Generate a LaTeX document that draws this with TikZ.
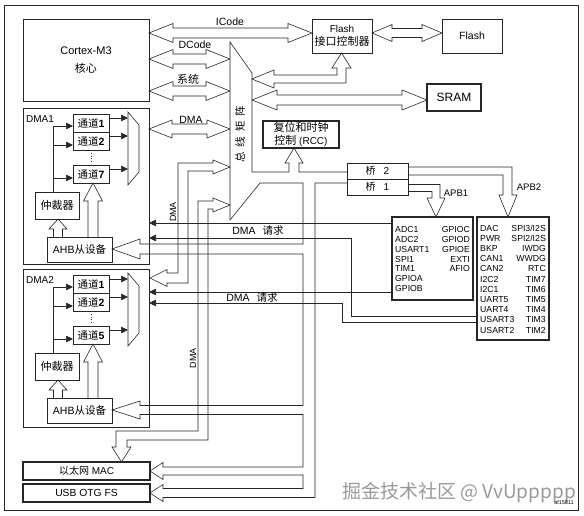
\documentclass[tikz,border=0pt]{standalone}
\usepackage{fontspec}
\setmainfont{Liberation Sans}
\newfontfamily\cjk{Noto Sans CJK SC}
\usetikzlibrary{arrows.meta}
\tikzset{
  ln/.style={draw=black!85, line width=0.6pt, line join=miter},
  box/.style={ln, inner sep=0pt, align=center, font=\fontsize{10.5}{12}\selectfont},
  tbox/.style={box, line width=1.3pt},
  cbox/.style={box, line width=0.9pt},
  band/.style={ln},
  req/.style={ln, -{Triangle[length=7pt,width=6.5pt]}},
  lbl/.style={inner sep=0pt, font=\fontsize{10.5}{12}\selectfont},
  apbt/.style={inner sep=0pt, font=\fontsize{8.7}{9}\selectfont},
}
\newcommand\rectnode[7]{\node[#6, minimum width={((#4)-(#2))*1pt}, minimum height={((#5)-(#3))*1pt}] (#1) at ({((#2)+(#4))/2},{((#3)+(#5))/2}) {#7};}
% horizontal hollow double arrow: x1 x2 y shaft-half head-half head-length
\newcommand\dblH[6]{\draw[band] (#1,#3) -- ({#1+#6},{#3-#5}) -- ({#1+#6},{#3-#4}) -- ({#2-#6},{#3-#4}) -- ({#2-#6},{#3-#5}) -- (#2,#3) -- ({#2-#6},{#3+#5}) -- ({#2-#6},{#3+#4}) -- ({#1+#6},{#3+#4}) -- ({#1+#6},{#3+#5}) -- cycle;}
% upward hollow arrow: xc ytip ybase ybottom shaft-half head-half
\newcommand\upH[6]{\draw[band] ({#1-#5},{#4}) -- ({#1-#5},{#3}) -- ({#1-#6},{#3}) -- (#1,{#2}) -- ({#1+#6},{#3}) -- ({#1+#5},{#3}) -- ({#1+#5},{#4});}
\newcommand\chan[1]{{\cjk 通道}\textbf{#1}}
% DMA unit: top, last channel, prefix, label
\newcommand\dmaunit[4]{%
  \node[lbl, font=\fontsize{10}{11}\selectfont] (#3lab) at (40,{#1+11}) {#4};
  \rectnode{#3ca}{73}{#1+6}{109}{#1+24}{cbox, font=\fontsize{10.5}{11}\selectfont}{\chan{1}}
  \rectnode{#3cb}{73}{#1+24}{109}{#1+42}{cbox, font=\fontsize{10.5}{11}\selectfont}{\chan{2}}
  \rectnode{#3cn}{73}{#1+57}{109}{#1+75}{cbox, font=\fontsize{10.5}{11}\selectfont}{\chan{#2}}
  \draw[band] (128,{#1+4}) -- (139,{#1+17}) -- (139,{#1+64}) -- (128,{#1+77}) -- cycle;
  \draw[req] (109,{#1+10}) -- (128,{#1+10});
  \draw[req] (109,{#1+28}) -- (128,{#1+28});
  \draw[req] (109,{#1+61}) -- (128,{#1+61});
  \rectnode{#3arb}{35}{#1+84}{79}{#1+111}{box, font=\cjk\fontsize{11}{12}\selectfont}{仲裁器}
  \rectnode{#3ahb}{47}{#1+129}{112}{#1+154}{box, font=\fontsize{10.5}{12}\selectfont}{AHB{\cjk 从设备}}
  \draw[band] (53,{#1+84}) -- (53,{#1+18});
  \draw[req] (53,{#1+18}) -- (73,{#1+18});
  \draw[req] (53,{#1+37}) -- (73,{#1+37});
  \draw[req] (53,{#1+70}) -- (73,{#1+70});
  \upH{58}{#1+111}{#1+121}{#1+129}{4.5}{9}
  \upH{93}{#1+75}{#1+93}{#1+129}{5}{9.5}
  \draw[ln, dotted, line width=0.9pt] (91,{#1+45}) -- (91,{#1+55});
}
\begin{document}
\begin{tikzpicture}[x=1pt,y=-1pt]
\useasboundingbox (0,0) rectangle (584,516);
\draw[ln] (4,5) rectangle (578,510);

% main blocks
\rectnode{cortex}{23}{19}{149}{101}{box, font=\fontsize{11}{18.5}\selectfont}{Cortex-M3\\{\cjk 核心}}
\rectnode{flashif}{312}{19}{372}{53}{box, font=\fontsize{10}{13}\selectfont}{Flash\\{\cjk\fontsize{11}{13}\selectfont 接口控制器}}
\rectnode{flash}{442}{19}{502}{53}{box}{Flash}
\rectnode{sram}{427}{84}{481}{111}{tbox, font=\fontsize{12}{14}\selectfont}{SRAM}
\rectnode{rcc}{263}{121}{339}{148}{tbox, font=\fontsize{10}{12.5}\selectfont}{{\cjk\fontsize{11}{12.5}\selectfont 复位和时钟}\\{\cjk\fontsize{11}{12.5}\selectfont 控制} (RCC)}
\rectnode{bridgeb}{347}{163}{408}{179}{box, font=\fontsize{10}{11}\selectfont}{{\cjk 桥}\hspace{8pt}2}
\rectnode{bridgea}{347}{179}{408}{195}{box, font=\fontsize{10}{11}\selectfont}{{\cjk 桥}\hspace{8pt}1}
\rectnode{apba}{392}{217}{473}{300}{tbox}{}
\rectnode{apbb}{477}{217}{549}{340}{tbox}{}
\rectnode{dmaa}{23}{108}{149}{264}{box}{}
\rectnode{dmab}{23}{269}{149}{427}{box}{}
\rectnode{mac}{23}{462}{150}{480}{tbox, font=\fontsize{10}{11}\selectfont}{{\cjk 以太网} MAC}
\rectnode{usb}{23}{484}{150}{502}{tbox, font=\fontsize{10.3}{11}\selectfont}{USB OTG FS}

\dmaunit{108}{7}{da}{DMA1}
\dmaunit{269}{5}{db}{DMA2}

% Cortex buses
\dblH{149}{312}{33}{5}{9.5}{24}
\dblH{149}{230}{59}{5}{9.5}{24}
\dblH{149}{230}{91}{5}{9.5}{24}
\dblH{149}{230}{129}{5}{9}{23}
\dblH{372}{442}{33}{4.5}{8.5}{20}
\dblH{252}{427}{100}{5}{10}{25}
\node[lbl] (icl) at (230,22) {ICode};
\node[lbl] (dcl) at (195,45) {DCode};
\node[lbl, font=\cjk\fontsize{11}{12}\selectfont] (xtl) at (188,79) {系统};
\node[lbl] (dml) at (191,120) {DMA};

% bus matrix to flash interface
\draw[band] (252,79) -- (274,70) -- (274,75) -- (337,75) -- (337,68) -- (332,68) -- (341.5,53) -- (351,68) -- (346,68) -- (346,83) -- (274,83) -- (274,88) -- cycle;

% bus matrix outline + RCC arrow + bridge top line
\draw[band] (230,220) -- (230,42) -- (252,73) -- (252,172) -- (289,172) -- (289,163) -- (285,163) -- (294,148) -- (303,163) -- (299,163) -- (299,172) -- (347,172);
\node[lbl, rotate=90, font=\cjk\fontsize{10.5}{12}\selectfont] (bmx) at (240,134) {总\hspace{5pt}线\hspace{5pt}矩\hspace{5pt}阵};

% AHB bus tree
\draw[band] (230,220) -- (260,183) -- (303,183) -- (303,244) -- (140,244) -- (140,239) -- (112,249) -- (140,259) -- (140,254) -- (303,254) -- (303,405.5) -- (140,405.5) -- (140,401) -- (112,410) -- (140,419) -- (140,414.5) -- (303,414.5) -- (303,467) -- (163,467) -- (163,462.5) -- (150,471) -- (163,479.5) -- (163,475) -- (303,475) -- (303,488.5) -- (163,488.5) -- (163,484.5) -- (150,493) -- (163,501.5) -- (163,497.5) -- (315,497.5) -- (315,183) -- (347,183);

% DMA2 master bus
\draw[band] (230,167) -- (213,160) -- (213,163) -- (178,163) -- (178,273) -- (167,273) -- (167,269.5) -- (150,278) -- (167,286.5) -- (167,283) -- (188,283) -- (188,171) -- (213,171) -- (213,174) -- cycle;
% Ethernet MAC master bus
\draw[band] (230,205) -- (213,198) -- (213,201) -- (198,201) -- (198,431) -- (116,431) -- (116,447) -- (112,447) -- (121.5,462) -- (131,447) -- (127,447) -- (127,440) -- (208,440) -- (208,209) -- (213,209) -- (213,212) -- cycle;
\node[lbl, rotate=90, font=\fontsize{9}{11}\selectfont] (dmv1) at (173,212) {DMA};
\node[lbl, rotate=90, font=\fontsize{9}{11}\selectfont] (dmv2) at (193,358) {DMA};

% APB buses
\draw[band] (408,167) -- (512,167) -- (512,195) -- (517,195) -- (508,217) -- (499,195) -- (503,195) -- (503,175) -- (408,175);
\draw[band] (408,184.5) -- (440,184.5) -- (440,198) -- (445,198) -- (436,217) -- (427,198) -- (432,198) -- (432,191.5) -- (408,191.5);
\node[lbl, font=\fontsize{9.5}{11}\selectfont] (apb1l) at (456,193) {APB1};
\node[lbl, font=\fontsize{9.5}{11}\selectfont] (apb2l) at (529,187) {APB2};

% DMA requests
\draw[req] (392,223) -- (149,223);
\draw[req] (477,316) -- (351,316) -- (351,238) -- (149,238);
\draw[req] (392,292) -- (149,292);
\draw[req] (477,322) -- (342,322) -- (342,303) -- (149,303);
\node[lbl] (rq1) at (258,231) {DMA\hspace{7pt}{\cjk 请求}};
\node[lbl] (rq2) at (252,297.5) {DMA\hspace{7pt}{\cjk 请求}};

% peripherals
\foreach \t [count=\i from 0] in {ADC1,ADC2,USART1,SPI1,TIM1,GPIOA,GPIOB}
  \node[apbt, anchor=base west] (pa\i) at (395,{233+9.7*\i}) {\t};
\foreach \t [count=\i from 0] in {GPIOC,GPIOD,GPIOE,EXTI,AFIO}
  \node[apbt, anchor=base east] (pb\i) at (470,{233+9.7*\i}) {\t};
\foreach \t [count=\i from 0] in {DAC,PWR,BKP,CAN1,CAN2,I2C2,I2C1,UART5,UART4,USART3,USART2}
  \node[apbt, anchor=base west] (pc\i) at (480,{231+10.2*\i}) {\t};
\foreach \t [count=\i from 0] in {SPI3/I2S,SPI2/I2S,IWDG,WWDG,RTC,TIM7,TIM6,TIM5,TIM4,TIM3,TIM2}
  \node[apbt, anchor=base east] (pd\i) at (546,{231+10.2*\i}) {\t};

% watermark and code
\node[inner sep=0pt, text=black!40, font=\cjk\fontsize{19}{21}\selectfont] (wm) at (459,493) {掘金技术社区 @ VvUppppp};
\node[inner sep=0pt, font=\fontsize{5.5}{6}\selectfont] (code) at (564,503) {af15811};
\end{tikzpicture}
\end{document}
